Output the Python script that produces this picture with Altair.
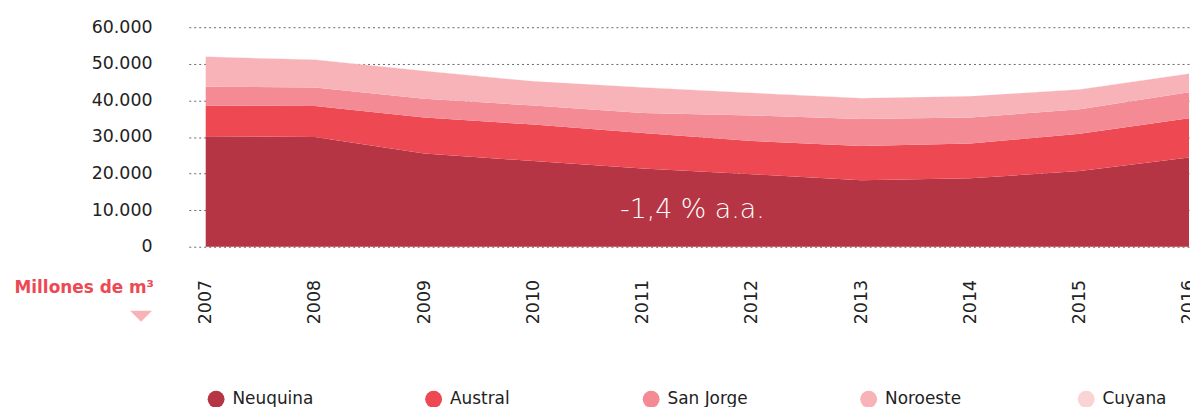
import altair as alt
import pandas as pd

years = [2007, 2008, 2009, 2010, 2011, 2012, 2013, 2014, 2015, 2016]
basins = ["Neuquina", "Austral", "San Jorge", "Noroeste", "Cuyana"]
neuquina = [30200, 30000, 25500, 23400, 21400, 19800, 18200, 18700, 20700, 24400]
austral = [8400, 8500, 9800, 10000, 9700, 9100, 9300, 9500, 10200, 10700]
san_jorge = [5150, 5050, 5150, 5200, 5450, 7000, 7400, 7100, 6700, 7100]
noroeste = [8150, 7550, 7600, 6600, 7000, 6150, 5700, 5800, 5400, 5100]
cuyana = [70, 65, 65, 60, 60, 60, 55, 55, 60, 60]
colors = ["#b53544", "#ee4853", "#f48a94", "#f8b3b8", "#fad3d5"]
y_ticks = [0, 10000, 20000, 30000, 40000, 50000, 60000]
unit_label = "Millones de m³"
annotation = "-1,4 % a.a."
annotation_year = [2011.454]
annotation_value = [10050]

series = [neuquina, austral, san_jorge, noroeste, cuyana]
rows = []
for i, (b, vals) in enumerate(zip(basins, series)):
    for y, v in zip(years, vals):
        rows.append({"year": y, "basin": b, "value": v, "order": i})
df = pd.DataFrame(rows)

FONT = "DejaVu Sans"

x_scale = alt.Scale(domain=[2006.845, 2016], nice=False, zero=False)
y_scale = alt.Scale(domain=[0, 60000], nice=False)
x_axis = alt.Axis(values=years, format="d", labelAngle=270, labelPadding=33,
                  grid=False, domain=False, ticks=False, title=None,
                  labelFontSize=17.5, labelColor="#222", labelFont=FONT,
                  labelOverlap=False, labelBound=False, labelFlush=False)
y_axis = alt.Axis(values=y_ticks, grid=True, gridDash=[2, 3], gridColor="#666",
                  gridWidth=1, domain=False, ticks=False, title=None,
                  labelPadding=37, labelFontSize=17.5, labelColor="#222", labelFont=FONT,
                  labelOverlap=False, labelFlush=False,
                  labelExpr="replace(format(datum.value, ',d'), ',', '.')")

area = alt.Chart(df).mark_area(interpolate="linear", opacity=1).encode(
    x=alt.X("year:Q", scale=x_scale, axis=x_axis),
    y=alt.Y("value:Q", stack="zero", scale=y_scale, axis=y_axis),
    color=alt.Color("basin:N",
                    scale=alt.Scale(domain=basins, range=colors),
                    legend=alt.Legend(orient="none", legendX=19, legendY=366, direction="horizontal",
                                      columns=5, title=None, symbolType="circle", symbolSize=289,
                                      symbolStrokeWidth=0, labelFontSize=17, labelColor="#222",
                                      labelFont=FONT, labelOffset=8, columnPadding=112,
                                      gridAlign="all", padding=0)),
    order=alt.Order("order:Q", sort="ascending"),
)

note_df = pd.DataFrame({"t": [annotation], "year": annotation_year, "value": annotation_value})
note = alt.Chart(note_df).mark_text(
    color="white", fontSize=27, font=FONT, fontWeight=200, align="center", baseline="middle"
).encode(x=alt.X("year:Q", scale=x_scale, axis=x_axis),
         y=alt.Y("value:Q", scale=y_scale, axis=y_axis),
         text="t:N")

unit = alt.Chart(pd.DataFrame({"t": [unit_label]})).mark_text(
    color="#ee4853", fontSize=17, font=FONT, fontWeight="bold", align="right", baseline="middle"
).encode(x=alt.value(-35), y=alt.value(263), text="t:N")

tri = alt.Chart(pd.DataFrame({"t": [unit_label]})).mark_point(
    shape="M-1,-0.5L1,-0.5L0,0.5Z", filled=True, size=484, color="#f8b3b8", opacity=1
).encode(x=alt.value(-48), y=alt.value(291))

chart = alt.layer(area, note, unit, tri).properties(
    width=1007, height=221,
    autosize=alt.AutoSizeParams(type="none"),
    padding={"left": 182, "top": 18, "right": 1, "bottom": 160},
).configure_view(stroke=None)

chart.save("out.html", embed_options={"renderer": "svg", "actions": False})
